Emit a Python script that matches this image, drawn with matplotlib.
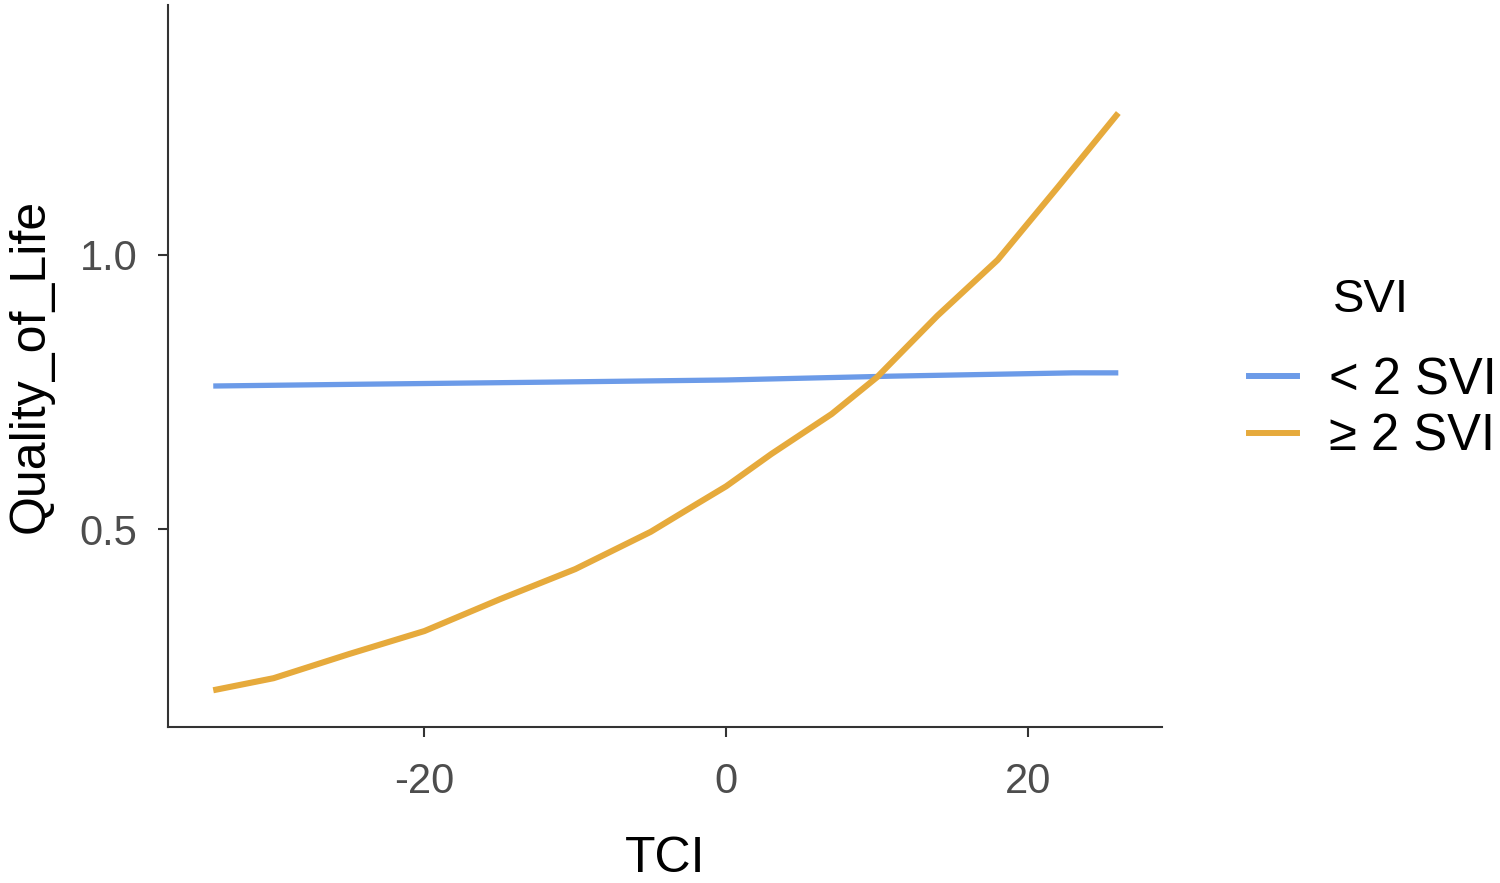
import numpy as np
import matplotlib.pyplot as plt
from matplotlib.lines import Line2D

plt.rcParams['font.family'] = ['Liberation Sans', 'DejaVu Sans']
plt.rcParams['axes.unicode_minus'] = False

# Datos
tci_low = [-34, -25, -12, 0, 11, 23, 26]
qol_low = [0.761, 0.764, 0.768, 0.772, 0.779, 0.785, 0.785]
tci_high = [-34, -30, -25, -20, -15, -10, -5, -2, 0, 3, 7, 10, 14, 18, 22, 26]
qol_high = [0.206, 0.228, 0.272, 0.314, 0.372, 0.427, 0.495, 0.545, 0.578,
            0.637, 0.710, 0.777, 0.889, 0.991, 1.124, 1.259]
labels = ['< 2 SVI', '\u2265 2 SVI']
colors = ['#6C9BE8', '#E6AA3C']

fig = plt.figure(figsize=(15, 8.83), dpi=100)
ax = fig.add_axes([0.112, 0.1767, 0.6627, 0.8176])

ax.plot(tci_low, qol_low, color=colors[0], lw=3.8, solid_capstyle='butt')
ax.plot(tci_high, qol_high, color=colors[1], lw=4.4, solid_capstyle='butt',
        solid_joinstyle='round')

ax.set_xlim(-37.0, 28.9)
ax.set_ylim(0.139, 1.456)
ax.set_xticks([-20, 0, 20])
ax.set_yticks([0.5, 1.0])
ax.set_yticklabels(['0.5', '1.0'])

for s in ['top', 'right']:
    ax.spines[s].set_visible(False)
for s in ['left', 'bottom']:
    ax.spines[s].set_linewidth(1.5)
    ax.spines[s].set_color('#333333')
ax.tick_params(direction='out', length=7, width=1.5, color='#333333',
               labelsize=30, labelcolor='#4D4D4D')
ax.tick_params(axis='x', pad=18)
ax.tick_params(axis='y', pad=15)

ax.set_xlabel('TCI', fontsize=36, labelpad=25)
ax.set_ylabel('Quality_of_Life', fontsize=36, labelpad=19)

# Leyenda
handles = [Line2D([], [], color=c, lw=4.3) for c in colors]
fig.legend(handles, labels, loc='center left',
           bbox_to_anchor=(0.802, 0.537), frameon=False,
           fontsize=36.5, handlelength=0.95,
           handletextpad=0.64, labelspacing=0.15)
fig.text(0.8887, 0.660, 'SVI', fontsize=34, ha='left', va='center')

fig.savefig('out.png', dpi=100)
